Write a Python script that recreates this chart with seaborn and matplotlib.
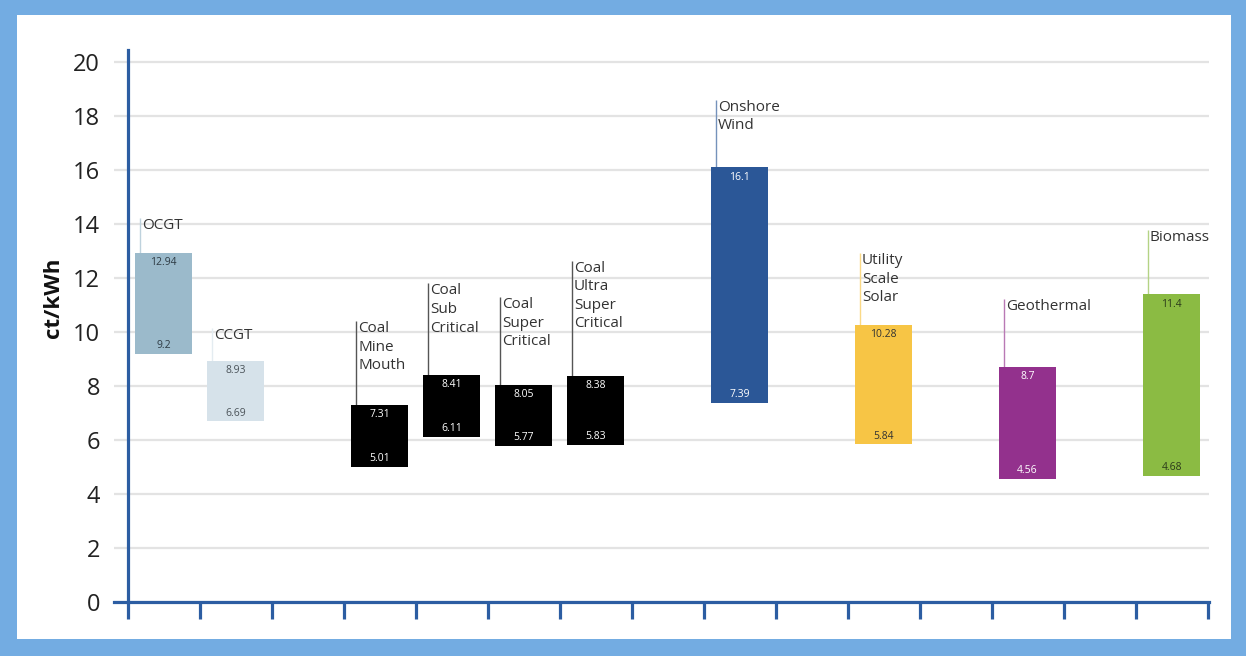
import matplotlib
matplotlib.use("Agg")
import matplotlib.pyplot as plt
from matplotlib.patches import Rectangle
from matplotlib.colors import to_rgb
import seaborn as sns
import pandas as pd

# Levelised cost ranges by generation technology (ct/kWh)
technologies = ["OCGT", "CCGT", "Coal\nMine\nMouth", "Coal\nSub\nCritical",
                "Coal\nSuper\nCritical", "Coal\nUltra\nSuper\nCritical",
                "Onshore\nWind", "Utility\nScale\nSolar", "Geothermal", "Biomass"]
cost_low = [9.2, 6.69, 5.01, 6.11, 5.77, 5.83, 7.39, 5.84, 4.56, 4.68]
cost_high = [12.94, 8.93, 7.31, 8.41, 8.05, 8.38, 16.1, 10.28, 8.7, 11.4]
y_ticks = [0, 2, 4, 6, 8, 10, 12, 14, 16, 18, 20]

# Layout: slot index of each technology on the 15-slot category axis
slots = [0, 1, 3, 4, 5, 6, 8, 10, 12, 14]
n_slots = 15
# Height reached by each name tag's leader line
tag_tops = [14.22, 10.15, 10.4, 11.8, 11.3, 12.64, 18.6, 12.93, 11.22, 13.8]

bar_colors = ["#9BBACB", "#D6E2EA", "#000000", "#000000", "#000000", "#000000",
              "#2B5797", "#F7C545", "#93318D", "#8BBB43"]
value_colors = ["#2e3b44", "#4a5258", "white", "white", "white", "white",
                "white", "#333333", "white", "#2b3a1a"]

FRAME = "#73ACE2"
AXIS = "#2C5DA2"
GRID = "#E3E3E3"
TEXT = "#333333"

W, H = 1246, 656
plt.rcParams["font.family"] = ["Open Sans", "DejaVu Sans"]

order = [f"slot{i}" for i in range(n_slots)]
for name, s in zip(technologies, slots):
    order[s] = name

df = pd.DataFrame({"technology": technologies, "low": cost_low, "high": cost_high})
df["span"] = df["high"] - df["low"]

fig = plt.figure(figsize=(W / 100, H / 100), dpi=100)
fig.patch.set_facecolor(FRAME)
fig.patches.append(Rectangle((17 / W, 17 / H), (1231 - 17) / W, (639 - 15) / H,
                             transform=fig.transFigure, facecolor="white",
                             edgecolor="none", zorder=-5))

ax = fig.add_axes([114 / W, (H - 602) / H, (1209 - 114) / W, (602 - 50) / H])
ax.set_facecolor("none")

sns.barplot(data=df, x="technology", y="span", order=order,
            bottom=df["low"].to_numpy(), width=0.8, errorbar=None,
            color="black", saturation=1, linewidth=0, ax=ax, zorder=2)
for bar, c in zip(ax.patches, bar_colors):
    bar.set_facecolor(c)


def lighten(c, f=0.5):
    r, g, b = to_rgb(c)
    return (r + (1 - r) * f, g + (1 - g) * f, b + (1 - b) * f)


for i, s in enumerate(slots):
    lx = s - 0.33
    line_col = "#555555" if bar_colors[i] == "#000000" else lighten(bar_colors[i], 0.35)
    ax.vlines(lx, cost_high[i], tag_tops[i], color=line_col, lw=1.0, zorder=1.5)
    ax.text(lx + 0.03, tag_tops[i], technologies[i], ha="left", va="top",
            fontsize=11, color=TEXT, linespacing=1.32, zorder=3)
    ax.annotate(f"{cost_high[i]:g}", (s, cost_high[i]), xytext=(0, -7),
                textcoords="offset points", ha="center", va="center",
                fontsize=7.5, color=value_colors[i], zorder=3)
    ax.annotate(f"{cost_low[i]:g}", (s, cost_low[i]), xytext=(0, 6),
                textcoords="offset points", ha="center", va="center",
                fontsize=7.5, color=value_colors[i], zorder=3)

ax.set_xlim(-0.69, n_slots - 0.48)
ax.set_ylim(0, 20.45)
ax.set_yticks(y_ticks)
ax.set_yticklabels([str(t) for t in y_ticks])
ax.set_xticks([k - 0.5 for k in range(n_slots + 1)])
ax.set_xticklabels([])
ax.set_xlabel("")

ax.yaxis.grid(True, color=GRID, lw=1.6)
ax.xaxis.grid(False)
ax.set_axisbelow(True)

for side in ("top", "right"):
    ax.spines[side].set_visible(False)
ax.spines["left"].set_position(("data", -0.5))
for side in ("left", "bottom"):
    ax.spines[side].set_color(AXIS)
    ax.spines[side].set_linewidth(2.3)
    ax.spines[side].set_zorder(4)

ax.tick_params(axis="x", length=12, width=2.3, color=AXIS, direction="out")
ax.tick_params(axis="y", length=0, pad=20, labelsize=17, labelcolor="#222222")

ax.set_ylabel("ct/kWh", fontsize=16, fontweight="bold", color="#111111",
              va="center", ha="center")
ax.yaxis.set_label_coords(-0.0557, 0.551)

fig.savefig("out.png", dpi=100, facecolor=fig.get_facecolor())
